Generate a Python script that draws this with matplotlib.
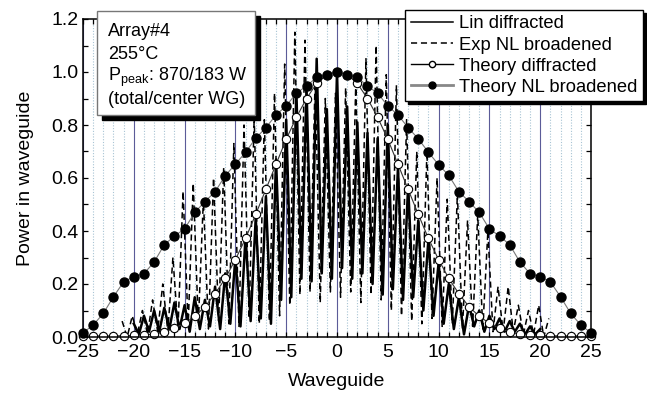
import numpy as np
import matplotlib
matplotlib.use("Agg")
import matplotlib.pyplot as plt
from matplotlib.lines import Line2D
from matplotlib.patches import Rectangle
from matplotlib.ticker import MultipleLocator

plt.rcParams['font.family'] = ['Liberation Sans', 'DejaVu Sans']
plt.rcParams['mathtext.fontset'] = 'custom'
plt.rcParams['mathtext.rm'] = 'Liberation Sans'
plt.rcParams['mathtext.it'] = 'Liberation Sans:italic'


## Data

waveguides = np.arange(-25, 26)

theory_diffracted = [0.004, 0.004, 0.004, 0.004, 0.005, 0.006, 0.008, 0.011, 0.018, 0.033,
                     0.052, 0.078, 0.114, 0.163, 0.221, 0.292, 0.372, 0.463, 0.557, 0.652,
                     0.746, 0.829, 0.900, 0.957, 0.990, 1.000,
                     0.990, 0.957, 0.900, 0.829, 0.746, 0.652, 0.557, 0.463, 0.372, 0.292,
                     0.221, 0.163, 0.114, 0.078, 0.052, 0.033, 0.018, 0.011, 0.008, 0.006,
                     0.005, 0.004, 0.004, 0.004, 0.004]

theory_nl = [0.016, 0.045, 0.089, 0.152, 0.208, 0.228, 0.239, 0.283, 0.348, 0.381,
             0.408, 0.470, 0.511, 0.548, 0.609, 0.652, 0.697, 0.750, 0.790, 0.838,
             0.872, 0.920, 0.947, 0.980, 0.990, 1.000,
             0.990, 0.980, 0.947, 0.920, 0.872, 0.838, 0.790, 0.748, 0.697, 0.650,
             0.610, 0.548, 0.511, 0.470, 0.408, 0.381, 0.348, 0.283, 0.239, 0.228,
             0.208, 0.152, 0.089, 0.045, 0.016]

# linear (low power) output: peak at each waveguide, valley between n and n+1
lin_wg = np.arange(-20, 21)
lin_peaks = [0.05, 0.08, 0.10, 0.11, 0.13, 0.12, 0.15, 0.14, 0.19, 0.24,
             0.30, 0.38, 0.45, 0.53, 0.67, 0.82, 0.93, 0.94, 1.05, 0.86,
             1.00,
             0.87, 0.81, 0.77, 0.75, 0.80, 0.64, 0.57, 0.44, 0.37, 0.28,
             0.20, 0.15, 0.12, 0.10, 0.08, 0.07, 0.06, 0.05, 0.04, 0.03]
lin_valleys = [0.01, 0.02, 0.02, 0.03, 0.03, 0.02, 0.03, 0.04, 0.03, 0.05,
               0.04, 0.06, 0.07, 0.05, 0.14, 0.15, 0.22, 0.21, 0.24, 0.22,
               0.26, 0.22, 0.24, 0.20, 0.16, 0.18, 0.14, 0.15, 0.10, 0.08,
               0.05, 0.03, 0.01, 0.04, 0.02, 0.03, 0.02, 0.02, 0.01, 0.01]

# nonlinear (high power) output
exp_wg = np.arange(-21, 22)
exp_peaks = [0.06, 0.08, 0.10, 0.14, 0.20, 0.30, 0.55, 0.58, 0.52, 0.60,
             0.64, 0.73, 0.80, 0.83, 0.82, 0.92, 1.03, 1.15, 1.12, 0.98,
             0.90, 0.92,
             0.94, 0.96, 1.05, 1.10, 0.99, 0.95, 0.82, 0.70, 0.70, 0.60,
             0.52, 0.54, 0.44, 0.46, 0.40, 0.19, 0.19, 0.12, 0.10, 0.12, 0.07]
exp_valleys = [0.00, 0.01, 0.01, 0.02, 0.02, 0.03, 0.04, 0.05, 0.03, 0.06,
               0.05, 0.04, 0.07, 0.05, 0.06, 0.08, 0.12, 0.16, 0.17, 0.13,
               0.17, 0.15, 0.17, 0.13, 0.16, 0.14, 0.10, 0.08, 0.06, 0.05,
               0.07, 0.04, 0.05, 0.03, 0.04, 0.03, 0.02, 0.02, 0.02, 0.01,
               0.01, 0.00]


def zigzag(wg, peaks, valleys, shift=0.0):
    x, y = [], []
    for i, n in enumerate(wg):
        x.append(n + shift)
        y.append(peaks[i])
        if i < len(valleys):
            x.append(n + 0.5 + shift)
            y.append(valleys[i])
    return np.array(x), np.array(y)


fig = plt.figure(figsize=(6.47, 4.01), dpi=100)
ax = fig.add_axes([83 / 647, 64 / 401, 508 / 647, 318 / 401])

# waveguide grid
ax.xaxis.set_major_locator(MultipleLocator(5))
ax.xaxis.set_minor_locator(MultipleLocator(1))
ax.yaxis.set_major_locator(MultipleLocator(0.2))
ax.yaxis.set_minor_locator(MultipleLocator(0.1))
ax.grid(True, axis='x', which='major', color='#5b5b98', lw=0.8, zorder=0)
ax.grid(True, axis='x', which='minor', color='#a8c4d4', lw=0.8, ls=(0, (1, 1.5)), zorder=0)
ax.set_axisbelow(True)

x, y = zigzag(exp_wg, exp_peaks, exp_valleys, shift=-0.15)
ax.plot(x, y, color='black', lw=1.1, ls=(0, (4, 2.5)), zorder=2)

x, y = zigzag(lin_wg, lin_peaks, lin_valleys)
ax.plot(x, y, color='black', lw=1.8, zorder=3)

ax.plot(waveguides, theory_diffracted, color='#333333', lw=0.8, marker='o', ms=6,
        mfc='white', mec='black', mew=0.8, zorder=4, clip_on=False)
ax.plot(waveguides, theory_nl, color='#777777', lw=0.8, marker='o', ms=6.5,
        mfc='black', mec='black', zorder=5, clip_on=False)

ax.set_xlim(-25, 25)
ax.set_ylim(0, 1.2)
ax.yaxis.set_major_formatter(matplotlib.ticker.FormatStrFormatter('%.1f'))
ax.tick_params(which='both', direction='in', top=True, right=True, length=3.5,
               width=0.9, labelsize=14)
ax.tick_params(axis='x', pad=5)
for s in ax.spines.values():
    s.set_linewidth(1.1)
    s.set_zorder(6)

ax.set_xlabel('Waveguide', fontsize=14, labelpad=9)
ax.set_ylabel('Power in waveguide', fontsize=14, labelpad=12)

# annotation box with shadow
bx, by, bw, bh = 97 / 647, (401 - 115) / 401, 158 / 647, 104 / 401
fig.patches.append(Rectangle((bx + 5 / 647, by - 5 / 401), bw, bh, transform=fig.transFigure,
                             facecolor='black', edgecolor='black', zorder=7))
fig.patches.append(Rectangle((bx, by), bw, bh, transform=fig.transFigure,
                             facecolor='white', edgecolor='#777777', lw=1, zorder=8))
info = ['Array#4', '255\u00b0C', r'P$_{\mathrm{peak}}$: 870/183 W', '(total/center WG)']
for i, line in enumerate(info):
    fig.text(108 / 647, 1 - (32 + 22.5 * i) / 401, line, fontsize=13,
             va='center', ha='left', zorder=9)

handles = [
    Line2D([], [], color='black', lw=1.1),
    Line2D([], [], color='black', lw=1.1, ls=(0, (4, 2.5))),
    Line2D([], [], color='black', lw=1.0, marker='o', ms=4.5, mfc='white', mec='black'),
    Line2D([], [], color='#888888', lw=2, marker='o', ms=5, mfc='black', mec='black'),
]
labels = ['Lin diffracted', 'Exp NL broadened', 'Theory diffracted', 'Theory NL broadened']
leg = ax.legend(handles, labels, loc='upper right', bbox_to_anchor=(643 / 647, 391 / 401),
                bbox_transform=fig.transFigure, fontsize=13.2, handlelength=2.3,
                handletextpad=0.35, labelspacing=0.22, borderpad=0.3, borderaxespad=0,
                fancybox=False, framealpha=1, edgecolor='black',
                shadow={'color': 'black', 'alpha': 1})
leg.get_frame().set_linewidth(1)
leg.set_zorder(10)

fig.savefig('out.png', dpi=100)
